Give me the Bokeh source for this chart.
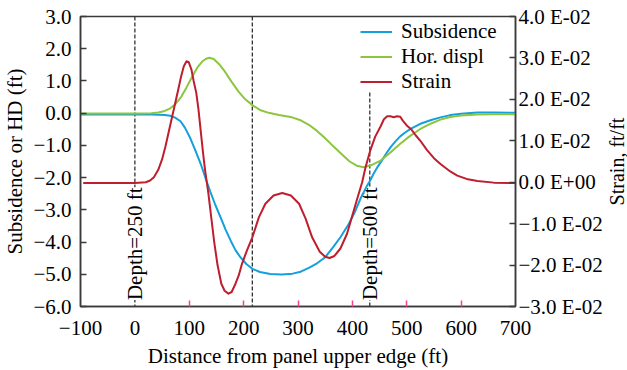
import math
from bokeh.plotting import figure
from bokeh.layouts import row
from bokeh.models import (ColumnDataSource, Range1d, LinearAxis, FixedTicker,
                          Legend, LegendItem)
from bokeh.core.properties import value
from bokeh.embed import file_html
from bokeh.resources import INLINE

# ---------------- data ----------------
sub_x = [-100, 0, 30, 45, 55, 65, 74, 84, 92, 102, 111, 121, 130, 139, 148, 158,
         167, 176, 185, 194, 205, 216, 230, 249, 270, 290, 305, 320, 335, 350,
         365, 378, 393, 405, 415, 427, 433, 439, 447, 455, 462, 470, 480, 488,
         497, 507, 525, 545, 562, 580, 600, 630, 660, 700]
sub_y = [-0.04, -0.04, -0.04, -0.05, -0.06, -0.08, -0.14, -0.25, -0.45, -0.78,
         -1.15, -1.57, -2.02, -2.45, -2.85, -3.25, -3.62, -3.95, -4.25, -4.47,
         -4.68, -4.83, -4.93, -4.99, -5.01, -4.98, -4.92, -4.80, -4.66, -4.47,
         -4.15, -3.85, -3.45, -3.05, -2.65, -2.25, -2.08, -1.88, -1.65, -1.45,
         -1.26, -1.06, -0.86, -0.72, -0.60, -0.49, -0.33, -0.21, -0.13, -0.06,
         -0.02, 0.02, 0.02, 0.01]

hd_x = [-100, 0, 30, 43, 55, 65, 74, 85, 95, 105, 115, 125, 131, 137, 145, 155,
        166, 178, 191, 203, 216, 230, 246, 265, 289, 305, 320, 335, 350, 365,
        381, 395, 408, 421, 435, 452, 470, 488, 505, 525, 545, 562, 580, 600,
        630, 660, 700]
hd_y = [-0.01, -0.01, 0.0, 0.02, 0.07, 0.15, 0.27, 0.50, 0.80, 1.12, 1.42, 1.62,
        1.69, 1.72, 1.68, 1.52, 1.28, 0.97, 0.66, 0.43, 0.25, 0.10, 0.01, -0.06,
        -0.13, -0.22, -0.36, -0.55, -0.78, -1.03, -1.28, -1.50, -1.63, -1.68,
        -1.61, -1.47, -1.22, -0.95, -0.72, -0.49, -0.32, -0.20, -0.12, -0.07,
        -0.04, -0.03, -0.03]

strain_x = [-95, -50, 0, 20, 28, 35, 43, 50, 56, 62, 68, 74, 80, 85, 90, 95, 99,
            104, 108, 113, 117, 121, 125, 129, 135, 140, 146, 152, 159, 165, 172,
            178, 185, 191, 197, 206, 216, 228, 240, 255, 271, 287, 302, 314, 326,
            340, 350, 358, 367, 378, 390, 400, 410, 418, 424, 433, 442, 452, 458,
            464, 470, 476, 482, 488, 493, 500, 508, 516, 525, 537, 550, 562, 580,
            593, 610, 630, 660, 700]
strain_y = [-0.0002, -0.0002, -0.0002, 0.0, 0.0004, 0.0012, 0.0030, 0.0055,
            0.0085, 0.0120, 0.0155, 0.0190, 0.0225, 0.0255, 0.0280, 0.0292,
            0.0290, 0.0272, 0.0245, 0.0215, 0.0175, 0.0125, 0.0075, 0.0030,
            -0.0025, -0.0080, -0.0145, -0.0200, -0.0245, -0.0262, -0.0269,
            -0.0265, -0.0245, -0.0225, -0.0197, -0.0165, -0.0133, -0.0085,
            -0.0052, -0.0032, -0.0026, -0.0032, -0.0052, -0.0088, -0.0133,
            -0.0168, -0.0180, -0.0183, -0.0178, -0.0160, -0.0125, -0.0080,
            -0.0035, 0.0, 0.0035, 0.0077, 0.0110, 0.0135, 0.0152, 0.0159, 0.0159,
            0.0157, 0.0159, 0.0158, 0.0148, 0.0137, 0.0128, 0.0114, 0.0100,
            0.0078, 0.0058, 0.0044, 0.0026, 0.0016, 0.0008, 0.0003, -0.0001,
            -0.0002]

x_ticks = [-100, 0, 100, 200, 300, 400, 500, 600, 700]
x_labels = ["\u2212100", "0", "100", "200", "300", "400", "500", "600", "700"]
x_inner_ticks = [100, 200, 300, 400, 500, 600]

left_ticks = [3, 2, 1, 0, -1, -2, -3, -4, -5, -6]
left_labels = ["3.0", "2.0", "1.0", "0.0", "\u22121.0", "\u22122.0", "\u22123.0",
               "\u22124.0", "\u22125.0", "\u22126.0"]

right_ticks = [0.04, 0.03, 0.02, 0.01, 0.0, -0.01, -0.02, -0.03]
right_labels = ["4.0 E-02", "3.0 E-02", "2.0 E-02", "1.0 E-02", "0.0 E+00",
                "\u22121.0 E-02", "\u22122.0 E-02", "\u22123.0 E-02"]
right_title = ["Strain, ft/ft"]

dash_x = [0, 216, 432]
dash_top = [3.0, 3.0, 0.64]
dash_bottom = [-6.0, -6.0, -6.0]

depth_x = [0, 432]
depth_y = [-5.8, -5.8]
depth_text = ["Depth=250 ft", "Depth=500 ft"]

series_names = ["Subsidence", "Hor. displ", "Strain"]
series_colors = ["#13a0dc", "#8cc63f", "#be1e2d"]

FONT = "Liberation Serif"
FS = "21px"
FRAME = "#3a3a3a"

# ---------------- main figure ----------------
p = figure(width=606, height=370, x_range=Range1d(-100, 700),
           y_range=Range1d(-6, 3), output_backend="svg", toolbar_location=None,
           min_border_left=80, min_border_right=91, min_border_top=16,
           min_border_bottom=64)
p.extra_y_ranges = {"strain": Range1d(-0.03, 0.04)}
p.grid.visible = False
p.outline_line_color = FRAME
p.outline_line_width = 1.5
p.background_fill_color = "white"
p.border_fill_color = "white"

# x axis
xa = p.xaxis[0]
xa.ticker = FixedTicker(ticks=x_ticks, minor_ticks=x_inner_ticks)
xa.major_label_overrides = {t: l for t, l in zip(x_ticks, x_labels)}
xa.major_tick_line_color = None
xa.minor_tick_line_color = "#ff3c96"
xa.minor_tick_line_width = 1.5
xa.minor_tick_in = 6
xa.minor_tick_out = 0
xa.axis_label = "Distance from panel upper edge (ft)"
xa.major_label_standoff = 8
xa.axis_label_standoff = 6

# left axis
ya = p.yaxis[0]
ya.ticker = FixedTicker(ticks=left_ticks, minor_ticks=[])
ya.major_label_overrides = {t: l for t, l in zip(left_ticks, left_labels)}
ya.axis_label = "Subsidence or HD (ft)"
ya.major_tick_in = 6
ya.major_tick_out = 0
ya.major_label_standoff = 9
ya.axis_label_standoff = 3
ya.minor_tick_line_color = None

# right axis
ra = LinearAxis(y_range_name="strain")
ra.ticker = FixedTicker(ticks=right_ticks, minor_ticks=[])
ra.major_label_overrides = {t: l for t, l in zip(right_ticks, right_labels)}
ra.major_tick_in = 6
ra.major_tick_out = 0
ra.major_label_standoff = 3
ra.minor_tick_line_color = None
p.add_layout(ra, "right")

for ax in (xa, ya, ra):
    ax.axis_line_color = FRAME
    ax.axis_line_width = 1.5
    ax.major_label_text_font = FONT
    ax.major_label_text_font_size = FS
    ax.major_label_text_color = "black"
    ax.axis_label_text_font = FONT
    ax.axis_label_text_font_size = FS
    ax.axis_label_text_font_style = "normal"
    ax.axis_label_text_color = "black"
for ax in (ya, ra):
    ax.major_tick_line_color = FRAME
    ax.major_tick_line_width = 1.5

# dashed lines
dsrc = ColumnDataSource(dict(x=dash_x, y0=dash_top, y1=dash_bottom))
p.segment(x0="x", y0="y0", x1="x", y1="y1", source=dsrc, line_color="#333333",
          line_width=1.3, line_dash="4 2")

# depth labels
tsrc = ColumnDataSource(dict(x=depth_x, y=depth_y, text=depth_text))
p.text(x="x", y="y", text="text", source=tsrc, angle=math.pi / 2,
       text_font=value(FONT), text_font_size=FS, text_align="left",
       text_baseline="middle", text_color="black",
       background_fill_color="white")

# curves
r_sub = p.line(sub_x, sub_y, line_color=series_colors[0], line_width=2)
r_hd = p.line(hd_x, hd_y, line_color=series_colors[1], line_width=2)
r_st = p.line(strain_x, strain_y, line_color=series_colors[2], line_width=2,
              y_range_name="strain", line_join="round")

legend = Legend(items=[LegendItem(label=series_names[0], renderers=[r_sub]),
                       LegendItem(label=series_names[1], renderers=[r_hd]),
                       LegendItem(label=series_names[2], renderers=[r_st])],
                location=(280, 212))
legend.border_line_color = None
legend.background_fill_alpha = 0
legend.padding = 0
legend.margin = 0
legend.spacing = 0
legend.glyph_width = 32
legend.glyph_height = 23
legend.label_height = 23
legend.label_standoff = 9
legend.label_text_font = FONT
legend.label_text_font_size = FS
legend.label_text_color = "black"
legend.label_text_baseline = "middle"
p.add_layout(legend)

# ---------------- strip holding the right-axis title ----------------
p2 = figure(width=21, height=370, x_range=Range1d(0, 1), y_range=Range1d(-6, 3),
            output_backend="svg", toolbar_location=None, x_axis_type=None,
            y_axis_type=None, min_border_left=0, min_border_right=0,
            min_border_top=16, min_border_bottom=64)
p2.grid.visible = False
p2.outline_line_color = None
p2.background_fill_color = "white"
p2.border_fill_color = "white"
p2.text(x=[0.48], y=[-1.5], text=right_title, angle=math.pi / 2,
        text_font=value(FONT), text_font_size="20px", text_align="center",
        text_baseline="middle", text_color="black")

layout = row(p, p2, spacing=0)
open("out.html", "w").write(file_html(layout, INLINE))
